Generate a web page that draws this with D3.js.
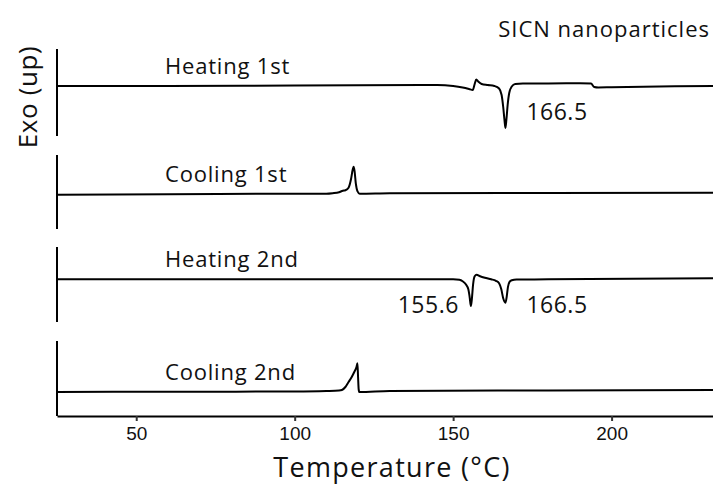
<!DOCTYPE html>
<html>
<head>
<meta charset="utf-8">
<script src="https://cdn.jsdelivr.net/npm/d3@7"></script>
<style>
  html, body { margin: 0; padding: 0; background: #fff; }
  svg { display: block; }
</style>
</head>
<body>
<svg id="chart" width="713" height="487"></svg>
<script>
// DSC thermograms, heat flow relative to baseline (exo up), per run
const runNames = ["Heating 1st", "Cooling 1st", "Heating 2nd", "Cooling 2nd"];

const heating1T = [25, 60, 100, 140, 145, 150, 153, 155, 156.2, 156.8, 157.3, 157.9, 159, 161, 163, 164.5, 165.3, 165.8, 166.2, 166.5, 166.8, 167.2, 167.7, 168.5, 169.6, 172, 180, 190, 193.5, 194.5, 195.8, 200, 210, 220, 232];
const heating1V = [0, 0, 0.01, 0.02, 0.02, 0.0, -0.03, -0.06, -0.08, 0.04, 0.13, 0.09, 0.04, 0.02, 0.0, -0.05, -0.18, -0.42, -0.68, -0.84, -0.68, -0.38, -0.14, -0.01, 0.04, 0.05, 0.05, 0.055, 0.05, -0.02, -0.03, -0.025, -0.015, -0.005, 0];

const cooling1T = [25, 60, 100, 110, 112, 114, 115.2, 116, 117, 117.8, 118.3, 118.6, 118.9, 119.3, 119.8, 120.5, 130, 180, 232];
const cooling1V = [-0.02, -0.01, 0, 0.0, 0.01, 0.03, 0.06, 0.07, 0.12, 0.3, 0.48, 0.54, 0.45, 0.2, 0.05, 0.0, 0.01, 0.015, 0.02];

const heating2T = [25, 100, 145, 150, 152, 153, 154, 154.8, 155.2, 155.6, 155.9, 156.3, 156.8, 157.4, 158.5, 160, 162, 163.5, 164.5, 165.2, 165.8, 166.5, 166.9, 167.3, 167.8, 168.5, 170, 180, 232];
const heating2V = [0, 0, 0, 0, -0.01, -0.04, -0.1, -0.2, -0.35, -0.534, -0.4, -0.1, 0.06, 0.09, 0.06, 0.03, 0.0, -0.03, -0.08, -0.2, -0.38, -0.468, -0.35, -0.15, -0.05, -0.02, -0.005, 0, 0.02];

const cooling2T = [25, 60, 100, 110, 114, 114.9, 116, 117, 118, 118.8, 119.5, 119.8, 120.0, 120.2, 120.4, 130, 180, 232];
const cooling2V = [0, 0.005, 0.01, 0.02, 0.03, 0.04, 0.1, 0.2, 0.3, 0.4, 0.5, 0.574, 0.3, 0.05, 0.0, 0.02, 0.03, 0.04];

// Peak temperatures written next to the curves
const peakRun = [0, 2, 2];
const peakT = [166.5, 155.6, 166.5];
const peakText = ["166.5", "155.6", "166.5"];

const xTicks = [50, 100, 150, 200];
const xDomain = [25, 232];

const series = [
  { name: runNames[0], t: heating1T, v: heating1V, top: 49, bottom: 136, dom: [-1.0, 0.74] },
  { name: runNames[1], t: cooling1T, v: cooling1V, top: 155, bottom: 229, dom: [-0.706, 0.774] },
  { name: runNames[2], t: heating2T, v: heating2V, top: 247, bottom: 322, dom: [-0.854, 0.646] },
  { name: runNames[3], t: cooling2T, v: cooling2V, top: 341, bottom: 416, dom: [-0.48, 1.02] }
];

const svg = d3.select("#chart");
const left = 57, right = 713, axisY = 416;
const textFont = "'Open Sans', Lato, sans-serif";

const x = d3.scaleLinear().domain(xDomain).range([left, right]);

series.forEach(s => {
  s.y = d3.scaleLinear().domain(s.dom).range([s.bottom, s.top]);
});

// Per-run vertical axis segments (no ticks)
series.forEach(s => {
  svg.append("line")
    .attr("x1", left).attr("x2", left)
    .attr("y1", s.y.range()[1]).attr("y2", s.y.range()[0])
    .attr("stroke", "#000").attr("stroke-width", 2);
});

// Curves
const line = d3.line().curve(d3.curveMonotoneX);
series.forEach(s => {
  const pts = s.t.map((t, i) => [x(t), s.y(s.v[i])]);
  svg.append("path")
    .attr("d", line(pts))
    .attr("fill", "none")
    .attr("stroke", "#000")
    .attr("stroke-width", 2)
    .attr("stroke-linejoin", "round");
  svg.append("text")
    .attr("x", 165)
    .attr("y", s.y(0) - 12)
    .attr("font-family", textFont)
    .attr("font-size", 22)
    .attr("letter-spacing", 0.8)
    .attr("fill", "#111")
    .text(s.name);
});

// Peak annotations
peakT.forEach((t, i) => {
  const s = series[peakRun[i]];
  const rightSide = t > 160;
  svg.append("text")
    .attr("x", rightSide ? x(t) + 21 : x(t) - 12)
    .attr("y", s.y(0) + 34)
    .attr("text-anchor", rightSide ? "start" : "end")
    .attr("font-family", textFont)
    .attr("font-size", 23)
    .attr("letter-spacing", 0.5)
    .attr("fill", "#111")
    .text(peakText[i]);
});

// Temperature axis
const xAxis = d3.axisBottom(x).tickValues(xTicks).tickSize(5).tickSizeOuter(0).tickPadding(6);
const gx = svg.append("g").attr("transform", `translate(0,${axisY})`).call(xAxis);
gx.select(".domain").attr("stroke", "#000").attr("stroke-width", 2.2);
gx.selectAll(".tick line").attr("stroke", "#333").attr("stroke-width", 2);
gx.selectAll(".tick text")
  .attr("font-family", "'Liberation Sans', Arial, sans-serif")
  .attr("font-size", 19)
  .attr("fill", "#111");

svg.append("text")
  .attr("x", 392).attr("y", 477)
  .attr("text-anchor", "middle")
  .attr("font-family", textFont)
  .attr("font-size", 27)
  .attr("letter-spacing", 1.3)
  .attr("fill", "#111")
  .text("Temperature (°C)");

svg.append("text")
  .attr("transform", "translate(37,97) rotate(-90)")
  .attr("text-anchor", "middle")
  .attr("font-family", textFont)
  .attr("font-size", 26)
  .attr("letter-spacing", 0.6)
  .attr("fill", "#111")
  .text("Exo (up)");

svg.append("text")
  .attr("x", 710).attr("y", 37)
  .attr("text-anchor", "end")
  .attr("font-family", textFont)
  .attr("font-size", 22)
  .attr("letter-spacing", 1)
  .attr("fill", "#111")
  .text("SICN nanoparticles");
</script>
</body>
</html>
